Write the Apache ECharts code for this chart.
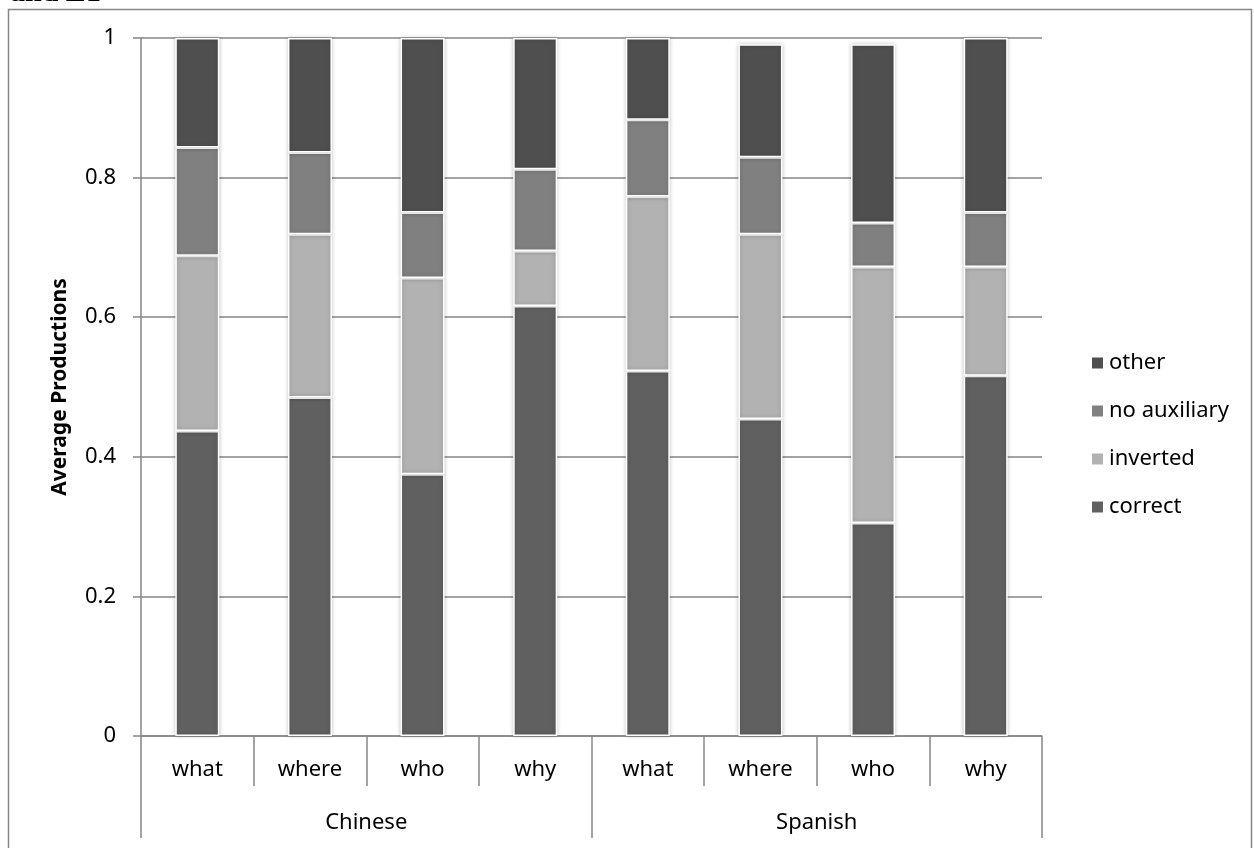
<!DOCTYPE html>
<html>
<head>
<meta charset="utf-8">
<script src="https://cdn.jsdelivr.net/npm/echarts@6/dist/echarts.min.js"></script>
<style>html,body{margin:0;padding:0;background:#fff;}#c{width:1254px;height:848px;}</style>
</head>
<body>
<div id="c"></div>
<script>
const categories = ['what', 'where', 'who', 'why', 'what', 'where', 'who', 'why'];
const groups = ['Chinese', 'Spanish'];
const correct  = [0.437, 0.485, 0.375, 0.616, 0.523, 0.454, 0.305, 0.516];
const inverted = [0.251, 0.234, 0.281, 0.079, 0.250, 0.265, 0.367, 0.156];
const noAux    = [0.155, 0.117, 0.094, 0.117, 0.110, 0.110, 0.063, 0.078];
const other    = [0.157, 0.164, 0.250, 0.188, 0.117, 0.162, 0.256, 0.250];
const yTicks = [0, 0.2, 0.4, 0.6, 0.8, 1];

const FONT = 'Noto Sans';
const AXIS = '#868686';
const chart = echarts.init(document.getElementById('c'), null, {renderer: 'canvas'});

function bar(name, data, color) {
  return {
    name: name, type: 'bar', stack: 'all', data: data, barWidth: 44,
    itemStyle: {color: color, borderColor: '#fff', borderWidth: 1.5,
      shadowBlur: 4, shadowColor: 'rgba(0,0,0,0.22)'},
    emphasis: {disabled: true}
  };
}

chart.setOption({
  animation: false,
  backgroundColor: '#fff',
  textStyle: {fontFamily: FONT},
  grid: {left: 141, top: 38, width: 901, height: 698, containLabel: false},
  legend: {
    orient: 'vertical', left: 1085, top: 347,
    itemWidth: 13, itemHeight: 13, itemGap: 26,
    icon: 'rect',
    data: ['other', 'no auxiliary', 'inverted', 'correct'],
    textStyle: {fontFamily: FONT, fontSize: 22, color: '#000', lineHeight: 22, padding: [0, 0, 0, 0]}
  },
  xAxis: [
    {
      type: 'category', data: categories, position: 'bottom',
      axisLine: {show: true, lineStyle: {color: AXIS, width: 1.5}},
      axisTick: {show: true, length: 50, lineStyle: {color: AXIS, width: 1.5}},
      axisLabel: {margin: 23, fontSize: 22, color: '#000', fontFamily: FONT, interval: 0},
      splitLine: {show: false}
    },
    {
      type: 'category', data: groups, position: 'bottom',
      axisLine: {show: false},
      axisTick: {show: true, length: 102, lineStyle: {color: AXIS, width: 1.5}},
      axisLabel: {margin: 76, fontSize: 22, color: '#000', fontFamily: FONT, interval: 0},
      splitLine: {show: false}
    }
  ],
  yAxis: {
    type: 'value', min: 0, max: 1, interval: 0.2,
    name: 'Average Productions', nameLocation: 'middle', nameRotate: 90, nameGap: 70,
    nameTextStyle: {fontFamily: FONT, fontSize: 21, fontWeight: 'bold', color: '#000'},
    axisLine: {show: true, lineStyle: {color: AXIS, width: 1.5}},
    axisTick: {show: true, length: 8, lineStyle: {color: AXIS, width: 1.5}},
    axisLabel: {margin: 25, fontSize: 22, color: '#000', fontFamily: FONT,
      formatter: function (v) { return yTicks.indexOf(Math.round(v * 10) / 10) >= 0 ? String(Math.round(v * 10) / 10) : ''; }},
    splitLine: {show: true, lineStyle: {color: AXIS, width: 1.5}}
  },
  graphic: [
    {type: 'rect', silent: true, shape: {x: 8.5, y: 9.5, width: 1243, height: 860},
      style: {fill: 'none', stroke: AXIS, lineWidth: 1.5}, z: -1},
    {type: 'text', silent: true, left: 10, top: -22,
      style: {text: 'and L1', font: 'bold 30px "Liberation Serif"', fill: '#000', lineHeight: 30}}
  ],
  series: [
    bar('correct', correct, '#606060'),
    bar('inverted', inverted, '#b2b2b2'),
    bar('no auxiliary', noAux, '#808080'),
    bar('other', other, '#4f4f4f')
  ]
});
</script>
</body>
</html>
